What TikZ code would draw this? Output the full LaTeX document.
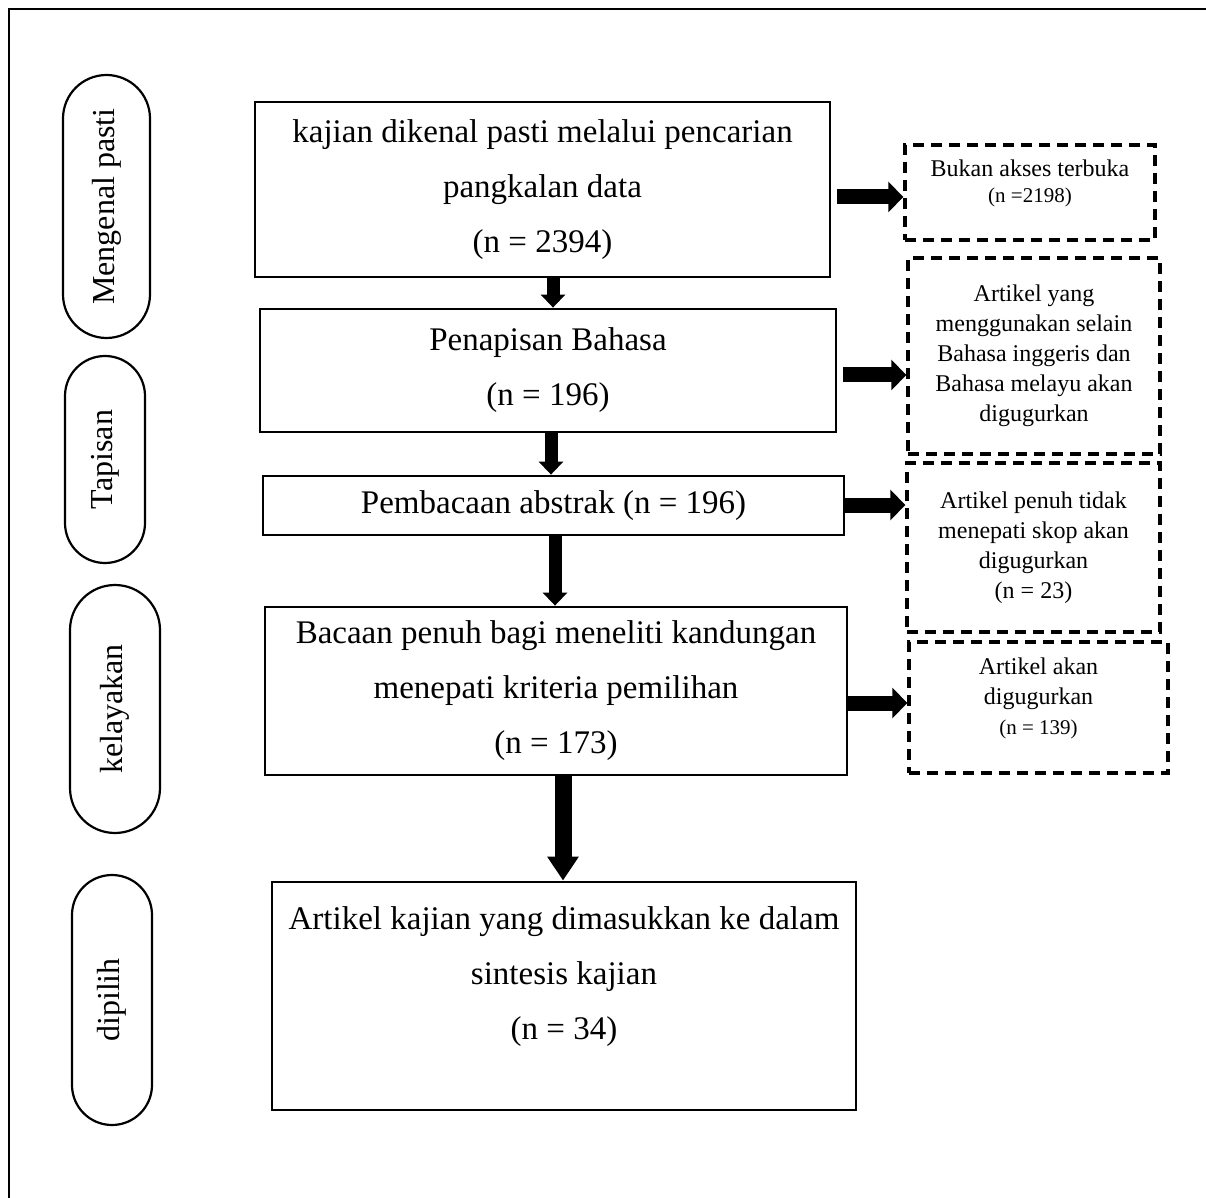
\documentclass[tikz,border=0pt]{standalone}
\usepackage{fontspec}
\setmainfont{Liberation Serif}
\usetikzlibrary{arrows.meta,calc}
\newcommand{\smalln}{\fontsize{10.5}{13}\selectfont}
\begin{document}
\begin{tikzpicture}[x=0.5pt,y=-0.5pt,
  mainbox/.style={draw, line width=1.4pt, inner sep=0pt, align=center,
    font=\fontsize{16.5}{27.5}\selectfont},
  sidebox/.style={draw, line width=1.7pt, dash pattern=on 5.5pt off 3.5pt,
    inner sep=0pt, align=center, font=\fontsize{12}{15}\selectfont},
  sidetext/.style={inner sep=0pt, align=center, font=\fontsize{12}{15}\selectfont},
  pill/.style={draw, line width=1.1pt, rotate=90, inner sep=0pt,
    font=\fontsize{16}{19}\selectfont},
  harrow/.style={line width=7.5pt, -{Triangle[length=7.5pt,width=15pt]}},
  varrow/.style={line width=6.5pt, -{Triangle[length=6.5pt,width=12pt]}},
  bigarrow/.style={line width=8.5pt, -{Triangle[length=12pt,width=15pt]}}
]
\useasboundingbox (0,0) rectangle (1206,1198);
% frame
\draw[line width=1.2pt] (1206,9) -- (9,9) -- (9,1198);

% side pills
\node[pill, minimum width=131.5pt, minimum height=43.5pt, rounded corners=21.75pt] (p1) at (106.5,206.5) {Mengenal pasti};
\node[pill, minimum width=103.5pt, minimum height=40pt, rounded corners=20pt] (p2) at (105,459.5) {Tapisan};
\node[pill, minimum width=124pt, minimum height=45pt, rounded corners=22.5pt] (p3) at (115,709) {kelayakan};
\node[pill, minimum width=125pt, minimum height=40pt, rounded corners=20pt] (p4) at (112,1000) {dipilih};

% main boxes
\node[mainbox, minimum width=287.5pt, minimum height=87.5pt] (b1) at (542.5,189.5)
  {kajian dikenal pasti melalui pencarian\\pangkalan data\\(n = 2394)};
\node[mainbox, minimum width=288pt, minimum height=61.5pt] (b2) at (548,370.5)
  {Penapisan Bahasa\\(n = 196)};
\node[mainbox, minimum width=290.5pt, minimum height=29.5pt] (b3) at (553.5,505.5)
  {Pembacaan abstrak (n = 196)};
\node[mainbox, minimum width=291pt, minimum height=84pt] (b4) at (556,691)
  {Bacaan penuh bagi meneliti kandungan\\menepati kriteria pemilihan\\(n = 173)};
\node[mainbox, minimum width=292pt, minimum height=114pt] (b5) at (564,996) {};
\node[align=center, inner sep=0pt, font=\fontsize{16.5}{27.5}\selectfont] (b5t) at (564,977)
  {Artikel kajian yang dimasukkan ke dalam\\sintesis kajian\\(n = 34)};

% right dashed boxes
\node[sidebox, minimum width=125pt, minimum height=47.5pt] (r1) at (1030,192.5) {};
\node[sidetext] (r1t) at (1030,183)
  {Bukan akses terbuka\\[-2pt]{\smalln (n =2198)}};
\node[sidebox, minimum width=126pt, minimum height=98pt] (r2) at (1034,356)
  {Artikel yang\\menggunakan selain\\Bahasa inggeris dan\\Bahasa melayu akan\\digugurkan};
\node[sidebox, minimum width=126.5pt, minimum height=84.5pt] (r3) at (1033.5,547.5)
  {Artikel penuh tidak\\menepati skop akan\\digugurkan\\(n = 23)};
\node[sidebox, minimum width=129.5pt, minimum height=65.5pt] (r4) at (1038.5,707.5) {};
\node[sidetext] (r4t) at (1038.5,698)
  {Artikel akan\\digugurkan\\{\smalln (n = 139)}};

% vertical arrows
\coordinate (v1) at (553,0);
\coordinate (v2) at (551,0);
\coordinate (v3) at (555,0);
\coordinate (v4) at (563,0);
\draw[varrow] (v1 |- b1.south) -- (v1 |- b2.north);
\draw[varrow] (v2 |- b2.south) -- (v2 |- b3.north);
\draw[varrow] (v3 |- b3.south) -- (v3 |- b4.north);
\draw[bigarrow] (v4 |- b4.south) -- (v4 |- b5.north);

% horizontal arrows
\coordinate (h1) at (837,197);
\coordinate (h2) at (843,375);
\coordinate (h3) at (845,505);
\coordinate (h4) at (847,703);
\draw[harrow] (h1) -- (h1 -| r1.west);
\draw[harrow] (h2) -- (h2 -| r2.west);
\draw[harrow] (h3) -- (h3 -| r3.west);
\draw[harrow] (h4) -- (h4 -| r4.west);
\end{tikzpicture}
\end{document}
